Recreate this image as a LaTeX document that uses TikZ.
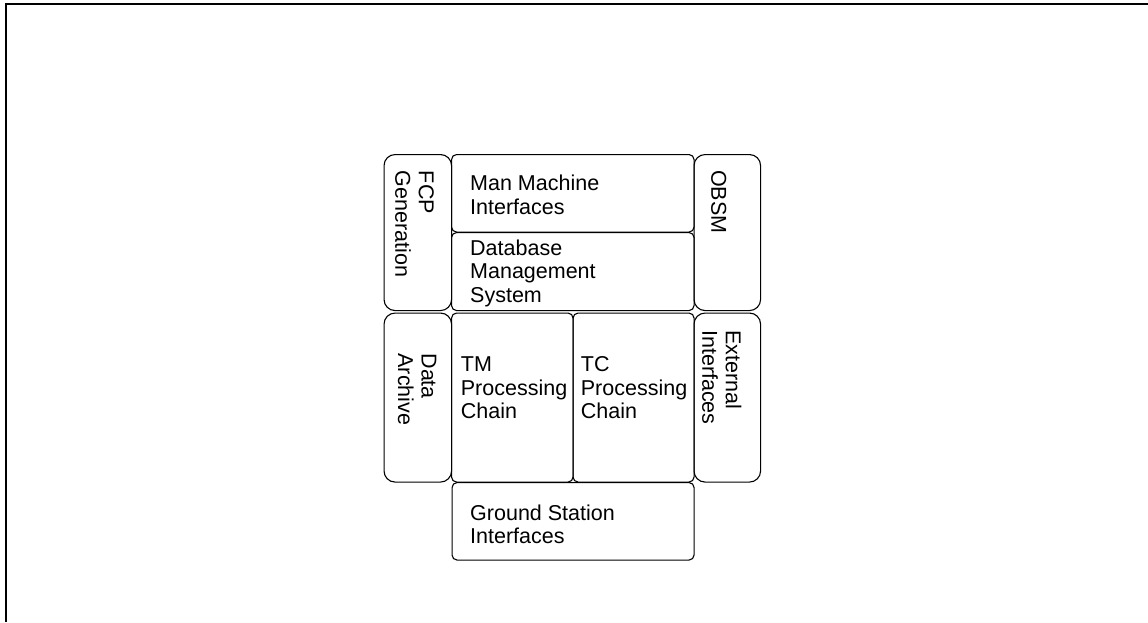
\documentclass[tikz,border=0pt]{standalone}
\usepackage{fontspec}
\setmainfont{Liberation Sans}
\begin{document}
\begin{tikzpicture}[x=1pt,y=-1pt,
  blk/.style={draw, line width=1.1pt, rounded corners=5pt, inner sep=0pt,
              anchor=north west},
  tall/.style={blk, rounded corners=11pt},
  lbl/.style={inner sep=0pt, anchor=north west, align=left,
              font=\fontsize{21.5}{23.5}\selectfont},
  vlbl/.style={lbl, rotate=-90}]
\useasboundingbox (0,0) rectangle (1148,622);

% page frame
\draw[line width=2pt] (5.8,622) |- (1148,4.2);

% upper row
\node[tall, minimum width=67.5pt, minimum height=156pt] (fcp)  at (383.5,154) {};
\node[blk,  minimum width=242.5pt, minimum height=77.5pt] (mmi) at (451,154) {};
\node[blk,  minimum width=242.5pt, minimum height=78pt]  (dbms) at (451,232) {};
\node[tall, minimum width=66.5pt, minimum height=156pt] (obsm) at (693.5,154) {};

% middle row
\node[tall, minimum width=67.5pt, minimum height=169pt] (arch) at (383.5,312.5) {};
\node[blk,  minimum width=121.5pt, minimum height=169pt] (tm)  at (451,312.5) {};
\node[blk,  minimum width=121pt,   minimum height=169pt] (tc)  at (572.5,312.5) {};
\node[tall, minimum width=66.5pt, minimum height=169pt] (ext)  at (693.5,312.5) {};

% bottom row
\node[blk, minimum width=242pt, minimum height=77.5pt] (gsi) at (451.5,482) {};

% labels
\node[vlbl] (fcpT)  at (434,170.7)   {FCP\\Generation};
\node[lbl]  (mmiT)  at (470,175)     {Man Machine\\Interfaces};
\node[lbl]  (dbmsT) at (470,239.3)   {Database\\Management\\System};
\node[vlbl] (obsmT) at (726.7,170)   {OBSM};
\node[vlbl] (archT) at (436.7,353.3) {Data\\Archive};
\node[lbl]  (tmT)   at (460.7,356.7) {TM\\Processing\\Chain};
\node[lbl]  (tcT)   at (580.7,356.7) {TC\\Processing\\Chain};
\node[vlbl] (extT)  at (741.7,330)   {External\\Interfaces};
\node[lbl]  (gsiT)  at (470,504.3)   {Ground Station\\Interfaces};
\end{tikzpicture}
\end{document}
